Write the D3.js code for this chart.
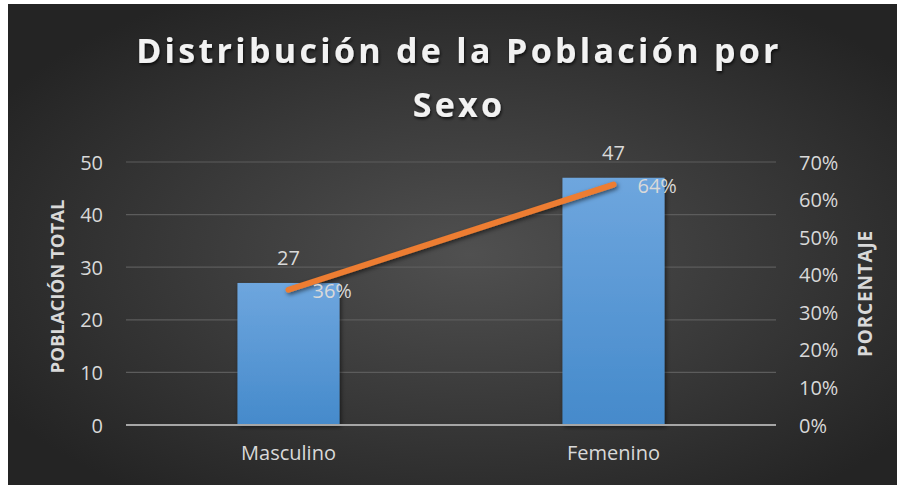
<!DOCTYPE html>
<html>
<head>
<meta charset="utf-8">
<script src="https://cdn.jsdelivr.net/npm/d3@7"></script>
<style>
  body { margin: 0; background: #ffffff; }
  svg text { font-family: "Open Sans", sans-serif; }
</style>
</head>
<body>
<div id="chart"></div>
<script>
// data
const categories = ["Masculino", "Femenino"];
const population = [27, 47];
const percentage = [0.36, 0.64];
const leftTicks = [0, 10, 20, 30, 40, 50];
const rightTicks = [0, 0.1, 0.2, 0.3, 0.4, 0.5, 0.6, 0.7];
const titleLines = ["Distribución de la Población por", "Sexo"];

// dimensions
const W = 897, H = 485;
const plot = { left: 126, right: 776, top: 162, bottom: 425 };

const svg = d3.select("#chart")
  .append("svg")
  .attr("width", W)
  .attr("height", H);

const defs = svg.append("defs");

const bg = defs.append("radialGradient")
  .attr("id", "bg")
  .attr("cx", "52%").attr("cy", "52%").attr("r", "62%");
bg.append("stop").attr("offset", "0%").attr("stop-color", "#505050");
bg.append("stop").attr("offset", "100%").attr("stop-color", "#242424");

const barGrad = defs.append("linearGradient")
  .attr("id", "bar")
  .attr("x1", 0).attr("y1", 0).attr("x2", 0).attr("y2", 1);
barGrad.append("stop").attr("offset", "0%").attr("stop-color", "#6ea6de");
barGrad.append("stop").attr("offset", "100%").attr("stop-color", "#458acb");

const shadow = defs.append("filter").attr("id", "shadow")
  .attr("x", "-20%").attr("y", "-20%").attr("width", "140%").attr("height", "140%");
shadow.append("feDropShadow")
  .attr("dx", 1.5).attr("dy", 2).attr("stdDeviation", 2)
  .attr("flood-color", "#000").attr("flood-opacity", 0.55);

const textShadow = defs.append("filter").attr("id", "tshadow");
textShadow.append("feDropShadow")
  .attr("dx", 1).attr("dy", 2).attr("stdDeviation", 1.5)
  .attr("flood-color", "#000").attr("flood-opacity", 0.7);

// background
svg.append("rect")
  .attr("x", 8).attr("y", 4)
  .attr("width", W - 8).attr("height", H - 4)
  .attr("fill", "url(#bg)");

// scales
const x = d3.scaleBand()
  .domain(categories)
  .range([plot.left, plot.right])
  .paddingInner(0.686)
  .paddingOuter(0.343);

const yLeft = d3.scaleLinear()
  .domain([0, 50])
  .range([plot.bottom, plot.top]);

const yRight = d3.scaleLinear()
  .domain([0, 0.7])
  .range([plot.bottom, plot.top]);

// gridlines
svg.append("g")
  .selectAll("line")
  .data(leftTicks.filter(d => d > 0))
  .join("line")
  .attr("x1", plot.left).attr("x2", plot.right)
  .attr("y1", d => yLeft(d)).attr("y2", d => yLeft(d))
  .attr("stroke", "#5c5c5c")
  .attr("stroke-width", 1.2);

// left axis
const leftAxis = svg.append("g")
  .attr("transform", `translate(${plot.left - 23}, 0)`)
  .call(d3.axisLeft(yLeft).tickValues(leftTicks).tickSize(0).tickPadding(0));
leftAxis.select(".domain").remove();
leftAxis.selectAll("text")
  .attr("fill", "#d9d9d9")
  .attr("font-size", "20px")
  .attr("dy", "0.35em");

// right axis
const rightAxis = svg.append("g")
  .attr("transform", `translate(${plot.right + 23}, 0)`)
  .call(d3.axisRight(yRight).tickValues(rightTicks).tickSize(0).tickPadding(0)
    .tickFormat(d3.format(".0%")));
rightAxis.select(".domain").remove();
rightAxis.selectAll("text")
  .attr("fill", "#d9d9d9")
  .attr("font-size", "20px")
  .attr("dy", "0.35em");

// bars
svg.append("g")
  .selectAll("rect")
  .data(population)
  .join("rect")
  .attr("x", (d, i) => x(categories[i]))
  .attr("width", x.bandwidth())
  .attr("y", d => yLeft(d))
  .attr("height", d => yLeft(0) - yLeft(d))
  .attr("fill", "url(#bar)")
  .attr("filter", "url(#shadow)");

// baseline
svg.append("line")
  .attr("x1", plot.left).attr("x2", plot.right)
  .attr("y1", plot.bottom).attr("y2", plot.bottom)
  .attr("stroke", "#a6a6a6")
  .attr("stroke-width", 2);

// x axis labels
const xAxis = svg.append("g")
  .attr("transform", `translate(0, ${plot.bottom})`)
  .call(d3.axisBottom(x).tickSize(0).tickPadding(0));
xAxis.select(".domain").remove();
xAxis.selectAll("text")
  .attr("fill", "#d9d9d9")
  .attr("font-size", "20px")
  .attr("dy", "1.75em");

// bar value labels
svg.append("g")
  .selectAll("text")
  .data(population)
  .join("text")
  .attr("x", (d, i) => x(categories[i]) + x.bandwidth() / 2)
  .attr("y", d => yLeft(d) - 18)
  .attr("text-anchor", "middle")
  .attr("fill", "#d9d9d9")
  .attr("font-size", "20px")
  .text(d => d);

// percentage line
const line = d3.line()
  .x((d, i) => x(categories[i]) + x.bandwidth() / 2)
  .y(d => yRight(d));

svg.append("path")
  .datum(percentage)
  .attr("d", line)
  .attr("fill", "none")
  .attr("stroke", "#ed7d31")
  .attr("stroke-width", 6)
  .attr("stroke-linecap", "round")
  .attr("filter", "url(#shadow)");

// percentage labels
svg.append("g")
  .selectAll("text")
  .data(percentage)
  .join("text")
  .attr("x", (d, i) => x(categories[i]) + x.bandwidth() / 2 + 24)
  .attr("y", d => yRight(d) + 8)
  .attr("fill", "#d9d9d9")
  .attr("font-size", "20px")
  .text(d => d3.format(".0%")(d));

// title
svg.append("g")
  .selectAll("text")
  .data(titleLines)
  .join("text")
  .attr("x", 459)
  .attr("y", (d, i) => 63 + i * 54)
  .attr("text-anchor", "middle")
  .attr("fill", "#f2f2f2")
  .attr("font-size", "34px")
  .attr("font-weight", "bold")
  .attr("letter-spacing", "3.3px")
  .attr("filter", "url(#tshadow)")
  .text(d => d);

// axis titles
svg.append("text")
  .attr("transform", `translate(64, ${(plot.top + plot.bottom) / 2 - 7}) rotate(-90)`)
  .attr("text-anchor", "middle")
  .attr("fill", "#d9d9d9")
  .attr("font-size", "18.5px")
  .attr("font-weight", "bold")
  .text("POBLACIÓN TOTAL");

svg.append("text")
  .attr("transform", `translate(872, ${(plot.top + plot.bottom) / 2}) rotate(-90)`)
  .attr("text-anchor", "middle")
  .attr("fill", "#d9d9d9")
  .attr("font-size", "19px")
  .attr("font-weight", "bold")
  .attr("letter-spacing", "0.8px")
  .text("PORCENTAJE");
</script>
</body>
</html>
